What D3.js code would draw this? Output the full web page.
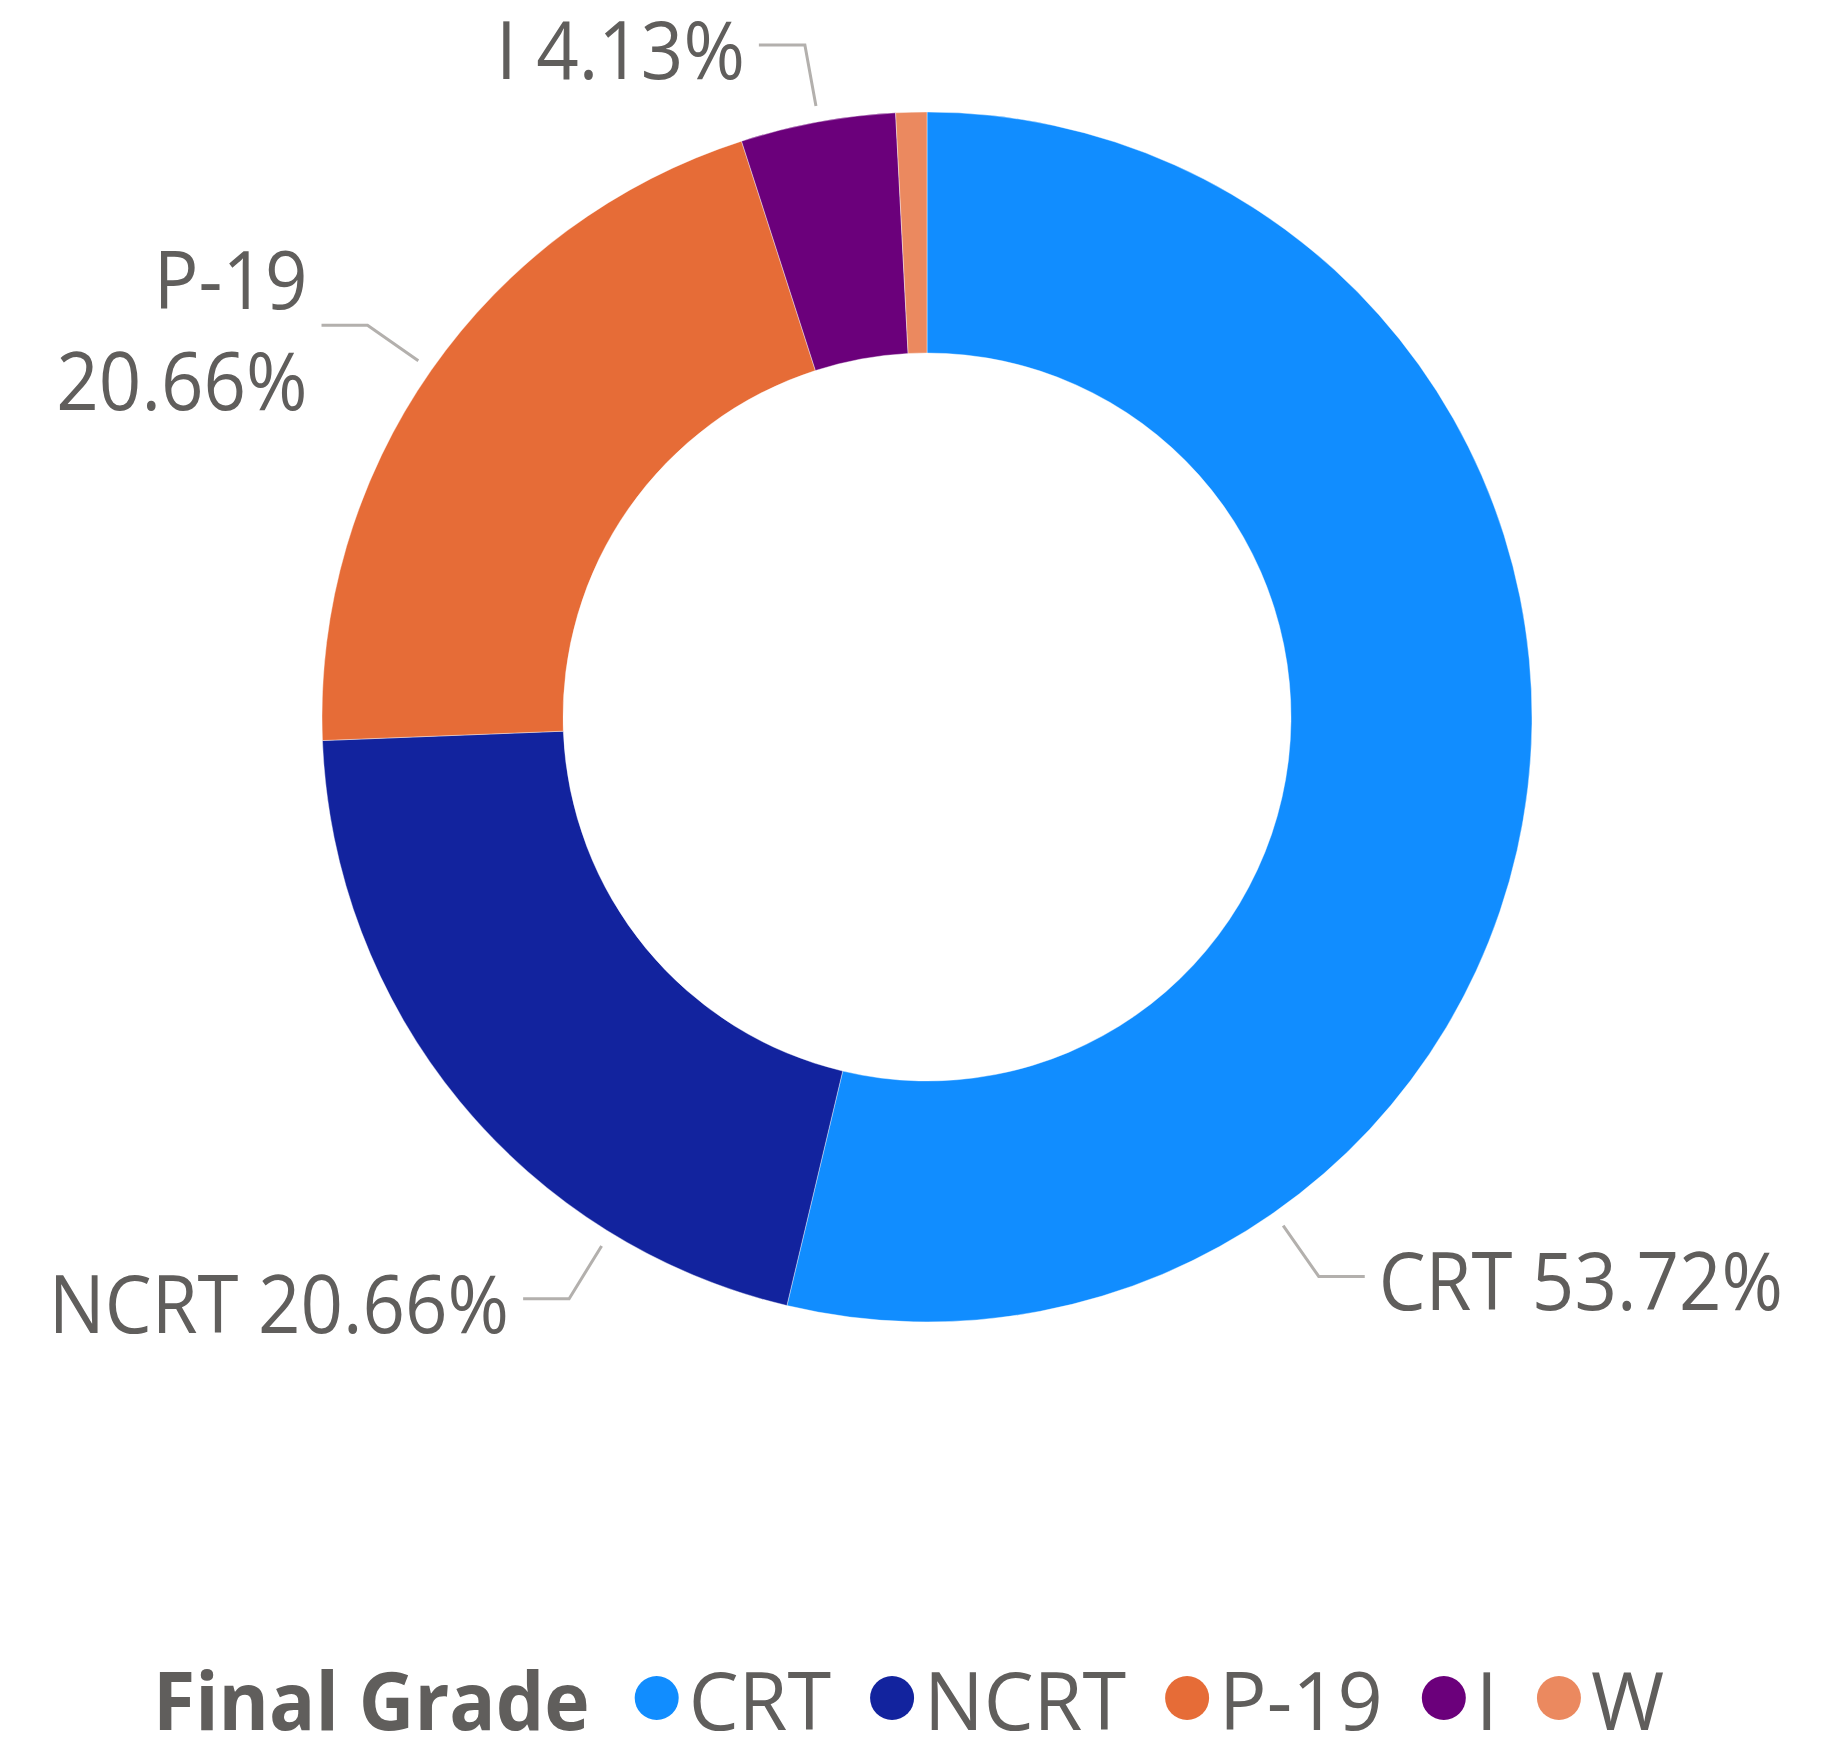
<!DOCTYPE html>
<html><head><meta charset="utf-8">
<script src="https://cdn.jsdelivr.net/npm/d3@7"></script>
<style>
body{margin:0;background:#fff}
text{font-family:"Open Sans","Noto Sans",sans-serif}
</style>
</head><body>
<svg id="chart" width="1838" height="1739"></svg>
<script>
// ---- data ----
const categories = ["CRT", "NCRT", "P-19", "I", "W"];
const counts = [65, 25, 25, 5, 1];
const percentLabels = ["53.72%", "20.66%", "20.66%", "4.13%", "0.83%"];
const colors = ["#118DFF", "#12239E", "#E66C37", "#6B007B", "#EB895F"];
const legendTitle = "Final Grade";

// ---- label layout (angles in degrees clockwise from top) ----
const labelAngles = [145, 211.6, 305, 349.7, null];
const labelWrap = [false, false, true, false, false];

// ---- geometry ----
const cx = 927, cy = 717;
const rOuter = 605, rInner = 364;
const textColor = "#605E5C";
const leaderColor = "#B3B0AD";
const labelFont = 80;

const svg = d3.select("#chart");
const g = svg.append("g").attr("transform", `translate(${cx},${cy})`);

const pie = d3.pie().sort(null).value(d => d.v).startAngle(0).endAngle(2 * Math.PI);
const data = categories.map((c, i) => ({ c, v: counts[i], p: percentLabels[i], col: colors[i], ang: labelAngles[i], wrap: labelWrap[i] }));
const arcs = pie(data);
const arc = d3.arc().innerRadius(rInner).outerRadius(rOuter);

g.selectAll("path.slice").data(arcs).join("path")
  .attr("class", "slice")
  .attr("d", arc)
  .attr("fill", d => d.data.col)
  .attr("stroke", "#fff").attr("stroke-width", 0.4);

function squeezeText(sel, k) {
  sel.each(function () {
    const n = this.getComputedTextLength();
    d3.select(this).attr("textLength", n * k).attr("lengthAdjust", "spacingAndGlyphs");
  });
}

// labels
const lab = g.append("g");
arcs.forEach(a => {
  const d = a.data;
  if (d.ang == null) return;
  const t = d.ang * Math.PI / 180;
  const sx = Math.sin(t), sy = -Math.cos(t);
  const p1 = [sx * (rOuter + 16), sy * (rOuter + 16)];
  const p2 = [sx * (rOuter + 78), sy * (rOuter + 78)];
  const dir = sx >= 0 ? 1 : -1;
  const p3 = [p2[0] + dir * 46, p2[1]];
  lab.append("polyline")
    .attr("points", [p1, p2, p3].map(p => p.join(",")).join(" "))
    .attr("fill", "none").attr("stroke", leaderColor).attr("stroke-width", 3);
  const lines = d.wrap ? [d.c, d.p] : [d.c + " " + d.p];
  const lh = 101;
  const baseY = p3[1] + 34 - (lines.length - 1) * lh / 2;
  lines.forEach((ln, i) => {
    const txt = lab.append("text")
      .attr("y", baseY + i * lh)
      .attr("font-size", labelFont)
      .attr("fill", textColor)
      .text(ln);
    squeezeText(txt, 0.93);
    const w = txt.node().getComputedTextLength();
    const gap = 14;
    const x = dir > 0 ? p3[0] + gap : p3[0] - gap - w;
    txt.attr("x", x);
  });
});

// legend
const leg = svg.append("g");
const legY = 1730;
const title = leg.append("text")
  .attr("x", 153).attr("y", legY)
  .attr("font-size", 80).attr("font-weight", "bold")
  .attr("fill", textColor).text(legendTitle);
squeezeText(title, 0.96);
let xpos = 153 + title.node().getComputedTextLength() + 45;
categories.forEach((c, i) => {
  const r = 22;
  leg.append("circle").attr("cx", xpos + r).attr("cy", legY - 32).attr("r", r).attr("fill", colors[i]);
  const t = leg.append("text")
    .attr("x", xpos + 2 * r + 10).attr("y", legY)
    .attr("font-size", 80).attr("fill", textColor).text(c);
  squeezeText(t, 0.99);
  xpos = xpos + 2 * r + 10 + t.node().getComputedTextLength() + 39;
});
</script>
</body></html>
